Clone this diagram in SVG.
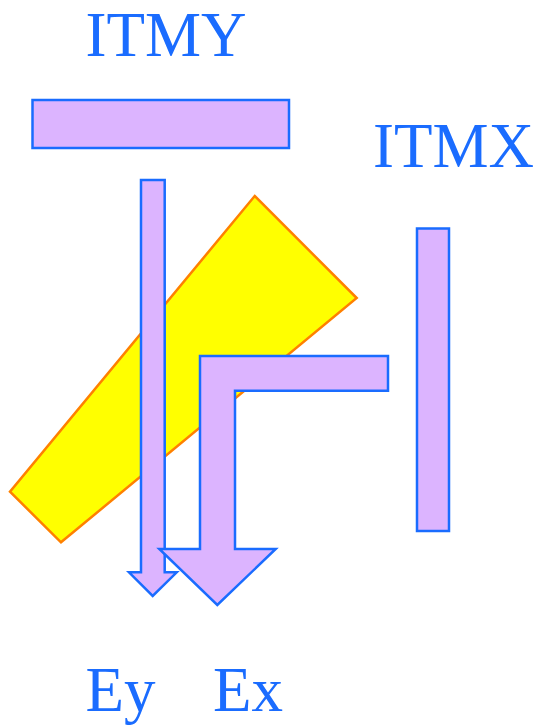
<svg xmlns="http://www.w3.org/2000/svg" width="539" height="727" viewBox="0 0 539 727">
<style>
.lbl{font-family:"Liberation Serif","Times New Roman",serif;font-size:63px;fill:#1a6cff}
.opt{fill:#dcb4ff;stroke:#1a6cff;stroke-width:2.5;stroke-linejoin:miter}
.bs{fill:#ffff00;stroke:#ff8000;stroke-width:2.5;stroke-linejoin:miter}
</style>
<rect width="539" height="727" fill="#ffffff"/>
<g id="bs"><polygon class="bs" points="254.7,196 356.7,298 61,542.3 10,491.7"/></g>
<g id="itmy"><rect class="opt" x="32.5" y="100" width="256.5" height="48"/><text class="lbl" x="85.5" y="55.5">ITMY</text></g>
<g id="itmx"><rect class="opt" x="417" y="228.5" width="32" height="302.5"/><text class="lbl" x="373" y="166.5">ITMX</text></g>
<g id="connectors">
<polygon id="ey-arrow" class="opt" points="141,180 164.7,180 164.7,572.3 176.7,572.3 152.7,596 129,572.3 141,572.3"/>
<polygon id="ex-arrow" class="opt" points="388,356 200,356 200,549 159.3,549 217.3,605 275.7,549 235,549 235,390.7 388,390.7"/>
</g>
<g id="ey"><text class="lbl" x="85.5" y="711">Ey</text></g>
<g id="ex"><text class="lbl" x="213" y="711">Ex</text></g>
</svg>
